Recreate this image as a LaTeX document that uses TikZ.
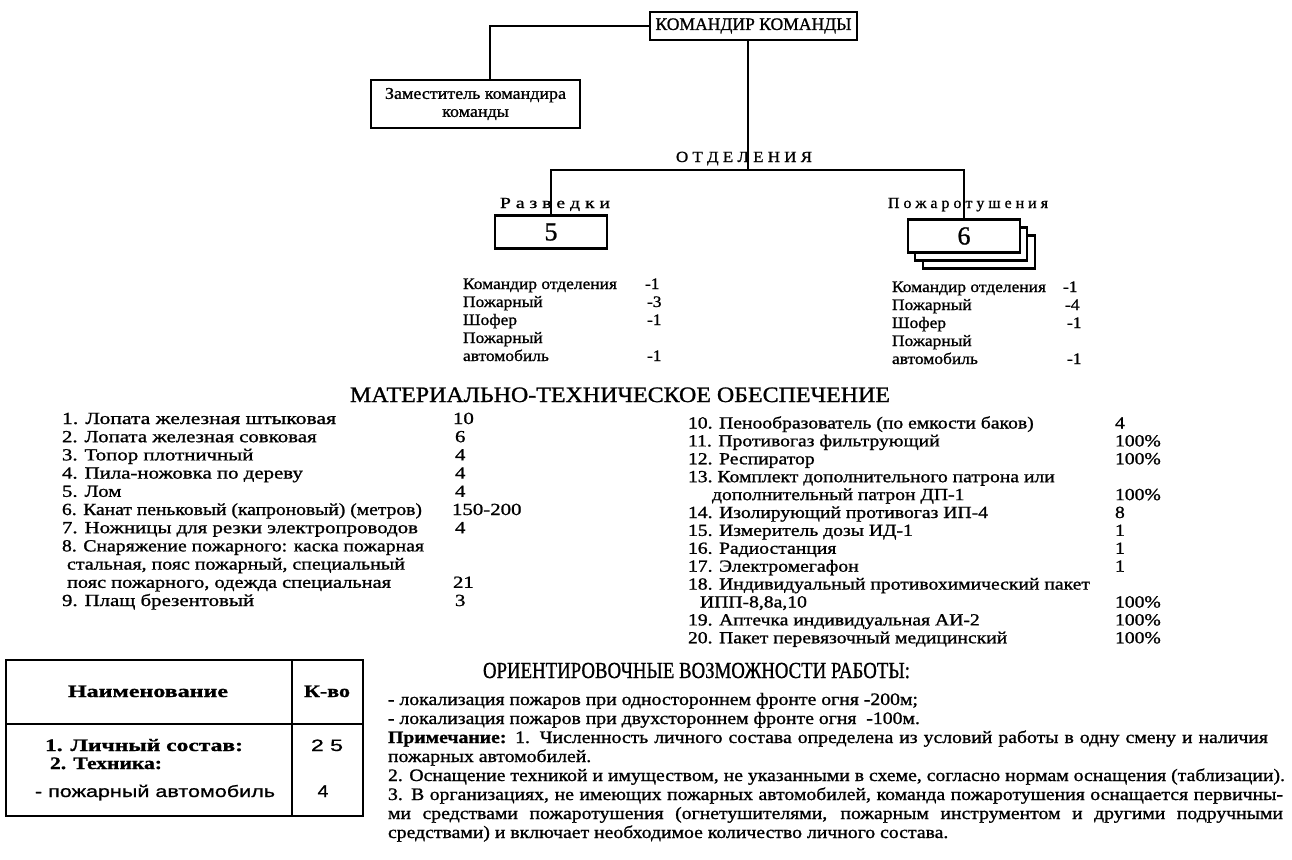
\documentclass[tikz,border=0pt]{standalone}
\usepackage{fontspec}
\usepackage{graphicx}
\setmainfont{Liberation Serif}[FakeBold=1.0]
\newfontfamily\sansf{Liberation Sans}[FakeBold=0.8]
\newcommand{\fitw}[2]{\resizebox{#1pt}{\height}{#2}}
\newlength{\natw}
% #1 macro, #2 target width (pt), #3 font, #4 text
\newcommand{\getscale}[4]{\settowidth{\natw}{\normalfont#3#4}\pgfmathsetmacro#1{#2/\natw}\xdef#1{#1}}
\newcommand{\LL}[1]{\scalebox{\sLL}[1]{#1}}
\newcommand{\RL}[1]{\scalebox{\sRL}[1]{#1}}
\newcommand{\SL}[1]{\scalebox{\sSL}[1]{#1}}
\newcommand{\DL}[1]{\scalebox{\sDL}[1]{#1}}
\newcommand{\PL}[1]{\scalebox{\sPL}[1]{#1}}
\newcommand{\PJ}[2]{\pgfmathsetmacro\pjw{#1/\sPL}\scalebox{\sPL}[1]{\makebox[\pjw pt][s]{#2}}}
\newcommand{\fl}{\fontsize{17}{19}\selectfont}
\newcommand{\fs}{\fontsize{16}{18}\selectfont}
\newcommand{\fp}{\fontsize{17.5}{19}\selectfont}
\newcommand{\fd}{\fontsize{16.5}{18}\selectfont}
\AtBeginDocument{%
\getscale{\sLL}{356}{\fl}{7. Ножницы для резки электропроводов}%
\getscale{\sRL}{402}{\fl}{18. Индивидуальный противохимический пакет}%
\getscale{\sSL}{154}{\fs}{Командир отделения}%
\getscale{\sDL}{181}{\fd}{Заместитель командира}%
\getscale{\sPL}{897}{\fp}{2. Оснащение техникой и имуществом, не указанными в схеме, согласно нормам оснащения (таблизации).}%
}
\begin{document}
\begin{tikzpicture}[x=1pt,y=-1pt,
  box/.style={draw, line width=2.7pt, inner sep=0pt, fill=white},
  conn/.style={line width=2.2pt},
  tl/.style={anchor=base west, inner sep=0pt, outer sep=0pt},
  tc/.style={anchor=base, inner sep=0pt, outer sep=0pt},
  lst/.style={tl, font=\fl},
  sml/.style={tl, font=\fs},
  para/.style={tl, font=\fp},
  head/.style={tl, font=\fontsize{22}{22}\selectfont},
  spaced/.style={tc, font=\fontsize{15.5}{16}\selectfont},
  tabl/.style={line width=2.3pt},
]
\useasboundingbox[fill=white] (0,0) rectangle (1292,859);

% ---------- organisation chart ----------
\node[box, minimum width=207pt, minimum height=28pt, font=\fontsize{17.5}{17}\selectfont] (cmd) at (753.5,26) {\fitw{196}{КОМАНДИР КОМАНДЫ}};
\node[box, minimum width=209pt, minimum height=48pt, align=center, font=\fd] (dep) at (475.5,104) {\DL{Заместитель командира}\\\DL{команды}};

\node[spaced] (otd) at (744,162) {\fitw{136}{О Т Д Е Л Е Н И Я}};
\node[spaced] (razv) at (555,208) {\fitw{110}{Р а з в е д к и}};
\node[spaced] (pozh) at (968,208) {\fitw{160}{П о ж а р о т у ш е н и я}};

\node[box, minimum width=112pt, minimum height=33pt, font=\fontsize{26}{26}\selectfont] (r5) at (551,232) {5};
\node[box, minimum width=112pt, minimum height=33pt] (r6c) at (979,252) {};
\node[box, minimum width=112pt, minimum height=33pt] (r6b) at (971,244) {};
\node[box, minimum width=112pt, minimum height=33pt, font=\fontsize{26}{26}\selectfont] (r6) at (964,236) {6};

\coordinate (dj) at (490,80);
\coordinate (hj) at (748,170);
\draw[conn] (cmd.west) -| (dj);
\draw[conn] (cmd.south -| hj) -- (hj);
\draw[conn] (r5.north) -- (r5.north |- hj) -- (r6.north |- hj) -- (r6.north);

% ---------- staff lists ----------
\node[sml] (a1) at (463,289) {\SL{Командир отделения}};
\node[sml] (a2) at (463,307) {\SL{Пожарный}};
\node[sml] (a3) at (463,325) {\SL{Шофер}};
\node[sml] (a4) at (463,343) {\SL{Пожарный}};
\node[sml] (a5) at (463,361) {\SL{автомобиль}};
\node[sml] (a1v) at (645,289) {\SL{-1}};
\node[sml] (a2v) at (647,307) {\SL{-3}};
\node[sml] (a3v) at (647,325) {\SL{-1}};
\node[sml] (a5v) at (647,361) {\SL{-1}};

\node[sml] (b1) at (892,292) {\SL{Командир отделения}};
\node[sml] (b2) at (892,310) {\SL{Пожарный}};
\node[sml] (b3) at (892,328) {\SL{Шофер}};
\node[sml] (b4) at (892,346) {\SL{Пожарный}};
\node[sml] (b5) at (892,364) {\SL{автомобиль}};
\node[sml] (b1v) at (1063,292) {\SL{-1}};
\node[sml] (b2v) at (1065,310) {\SL{-4}};
\node[sml] (b3v) at (1067,328) {\SL{-1}};
\node[sml] (b5v) at (1067,364) {\SL{-1}};

% ---------- material list ----------
\node[head] (mt) at (350,402) {\fitw{540}{МАТЕРИАЛЬНО-ТЕХНИЧЕСКОЕ ОБЕСПЕЧЕНИЕ}};

\node[lst] (m1) at (62,424) {\fitw{274}{1. Лопата железная штыковая}};
\node[lst] (m2) at (62,442.2) {\LL{2. Лопата железная совковая}};
\node[lst] (m3) at (62,460.4) {\LL{3. Топор плотничный}};
\node[lst] (m4) at (62,478.6) {\LL{4. Пила-ножовка по дереву}};
\node[lst] (m5) at (62,496.8) {\LL{5. Лом}};
\node[lst] (m6) at (62,515) {\fitw{360}{6. Канат пеньковый (капроновый) (метров)}};
\node[lst] (m7) at (62,533.2) {\LL{7. Ножницы для резки электропроводов}};
\node[lst] (m8) at (62,551.4) {\fitw{362}{8. Снаряжение пожарного: каска пожарная}};
\node[lst] (m8b) at (67,569.6) {\fitw{338}{стальная, пояс пожарный, специальный}};
\node[lst] (m8c) at (67,587.8) {\fitw{324}{пояс пожарного, одежда специальная}};
\node[lst] (m9) at (62,606) {\LL{9. Плащ брезентовый}};
\node[lst] (m1v) at (453,424) {\LL{10}};
\node[lst] (m2v) at (455,442.2) {\LL{6}};
\node[lst] (m3v) at (455,460.4) {\LL{4}};
\node[lst] (m4v) at (455,478.6) {\LL{4}};
\node[lst] (m5v) at (455,496.8) {\LL{4}};
\node[lst] (m6v) at (452,515) {\LL{150-200}};
\node[lst] (m7v) at (455,533.2) {\LL{4}};
\node[lst] (m8v) at (453,587.8) {\LL{21}};
\node[lst] (m9v) at (455,606) {\LL{3}};

\node[lst] (n10) at (688,428.5) {\RL{10. Пенообразователь (по емкости баков)}};
\node[lst] (n11) at (688,446.4) {\RL{11. Противогаз фильтрующий}};
\node[lst] (n12) at (688,464.3) {\RL{12. Респиратор}};
\node[lst] (n13) at (688,482.2) {\RL{13.\ Комплект дополнительного патрона или}};
\node[lst] (n13b) at (712,500.1) {\RL{дополнительный патрон ДП-1}};
\node[lst] (n14) at (688,518) {\RL{14. Изолирующий противогаз ИП-4}};
\node[lst] (n15) at (688,535.9) {\RL{15. Измеритель дозы ИД-1}};
\node[lst] (n16) at (688,553.8) {\RL{16. Радиостанция}};
\node[lst] (n17) at (688,571.7) {\RL{17. Электромегафон}};
\node[lst] (n18) at (688,589.6) {\RL{18. Индивидуальный противохимический пакет}};
\node[lst] (n18b) at (700,607.5) {\RL{ИПП-8,8а,10}};
\node[lst] (n19) at (688,625.4) {\RL{19. Аптечка индивидуальная АИ-2}};
\node[lst] (n20) at (688,643.3) {\RL{20. Пакет перевязочный медицинский}};
\node[lst] (n10v) at (1115,428.5) {\RL{4}};
\node[lst] (n11v) at (1115,446.4) {\RL{100\%}};
\node[lst] (n12v) at (1115,464.3) {\RL{100\%}};
\node[lst] (n13v) at (1115,500.1) {\RL{100\%}};
\node[lst] (n14v) at (1115,518) {\RL{8}};
\node[lst] (n15v) at (1115,535.9) {\RL{1}};
\node[lst] (n16v) at (1115,553.8) {\RL{1}};
\node[lst] (n17v) at (1115,571.7) {\RL{1}};
\node[lst] (n18v) at (1115,607.5) {\RL{100\%}};
\node[lst] (n19v) at (1115,625.4) {\RL{100\%}};
\node[lst] (n20v) at (1115,643.3) {\RL{100\%}};

% ---------- summary table ----------
\draw[tabl] (6,660) rectangle (363,816);
\draw[tabl] (292,660) -- (292,816);
\draw[tabl] (6,724) -- (363,724);
\node[tc, font=\fontsize{17.5}{18}\selectfont\bfseries] (th1) at (148,697) {\fitw{160}{Наименование}};
\node[tc, font=\fontsize{17.5}{18}\selectfont\bfseries] (th2) at (327,697) {\fitw{46}{К-во}};
\node[tl, font=\fontsize{17.5}{18}\selectfont\bfseries] (tr1) at (45,751) {\fitw{198}{1. Личный состав:}};
\node[tl, font=\fontsize{17.5}{18}\selectfont\bfseries] (tr2) at (50,769) {\fitw{112}{2. Техника:}};
\node[tl, font=\fontsize{16.5}{18}\sansf] (tr3) at (35,797) {\fitw{240}{- пожарный автомобиль}};
\node[tc, font=\fontsize{16.5}{18}\sansf] (tv1) at (327,751) {\fitw{32}{2 5}};
\node[tc, font=\fontsize{17}{18}\sansf] (tv3) at (323,797) {\scalebox{1.15}[1]{4}};

% ---------- capabilities ----------
\node[head, font=\fontsize{23}{23}\selectfont] (ov) at (483,678) {\fitw{427}{ОРИЕНТИРОВОЧНЫЕ ВОЗМОЖНОСТИ РАБОТЫ:}};
\node[para] (p1) at (388,705) {\PL{- локализация пожаров при одностороннем фронте огня -200м;}};
\node[para] (p2) at (388,724) {\PL{- локализация пожаров при двухстороннем фронте огня\ \ -100м.}};
\node[para] (p3) at (388,743) {\PJ{880}{\textbf{Примечание:} 1. Численность личного состава определена из условий работы в одну смену и наличия}};
\node[para] (p4) at (388,762) {\PL{пожарных автомобилей.}};
\node[para] (p5) at (388,781) {\PJ{897}{2. Оснащение техникой и имуществом, не указанными в схеме, согласно нормам оснащения (таблизации).}};
\node[para] (p6) at (388,800) {\PJ{895}{3. В организациях, не имеющих пожарных автомобилей, команда пожаротушения оснащается первичны-}};
\node[para] (p7) at (388,819) {\PJ{895}{ми средствами пожаротушения (огнетушителями, пожарным инструментом и другими подручными}};
\node[para] (p8) at (388,838) {\PL{средствами) и включает необходимое количество личного состава.}};
\end{tikzpicture}
\end{document}
